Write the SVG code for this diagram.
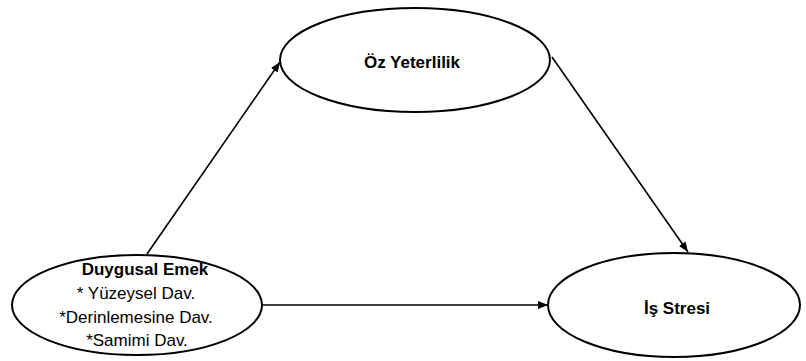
<svg xmlns="http://www.w3.org/2000/svg" width="806" height="361" viewBox="0 0 806 361">
<style>
.node ellipse{fill:#fff;stroke:#000;stroke-width:2}
.t{font-family:"Liberation Sans",Arial,sans-serif;font-size:17px;fill:#000;text-anchor:middle}
.b{font-weight:bold}
.edge{stroke:#000;stroke-width:1.6;fill:none;marker-end:url(#ah)}
</style>
<defs>
<marker id="ah" viewBox="0 0 10 8" refX="10" refY="4" markerWidth="10" markerHeight="8" markerUnits="userSpaceOnUse" orient="auto">
<path d="M0,0 L10,4 L0,8 z" fill="#000"/>
</marker>
</defs>
<g id="connectors">
<line class="edge" x1="147" y1="254" x2="280" y2="62"/>
<line class="edge" x1="552" y1="57" x2="688" y2="252"/>
<line class="edge" x1="262" y1="305" x2="548" y2="305"/>
</g>
<g id="oz-yeterlilik" class="node">
<ellipse cx="415" cy="60" rx="135" ry="52"/>
<text class="t b" x="412" y="68">Öz Yeterlilik</text>
</g>
<g id="is-stresi" class="node">
<ellipse cx="674" cy="305" rx="126" ry="52"/>
<text class="t b" x="677" y="314">İş Stresi</text>
</g>
<g id="duygusal-emek" class="node">
<ellipse cx="137" cy="305" rx="125" ry="50"/>
<text class="t b" x="145" y="275">Duygusal Emek</text>
<text class="t" x="136" y="299">* Yüzeysel Dav.</text>
<text class="t" x="136" y="323">*Derinlemesine Dav.</text>
<text class="t" x="137" y="346">*Samimi Dav.</text>
</g>
</svg>
